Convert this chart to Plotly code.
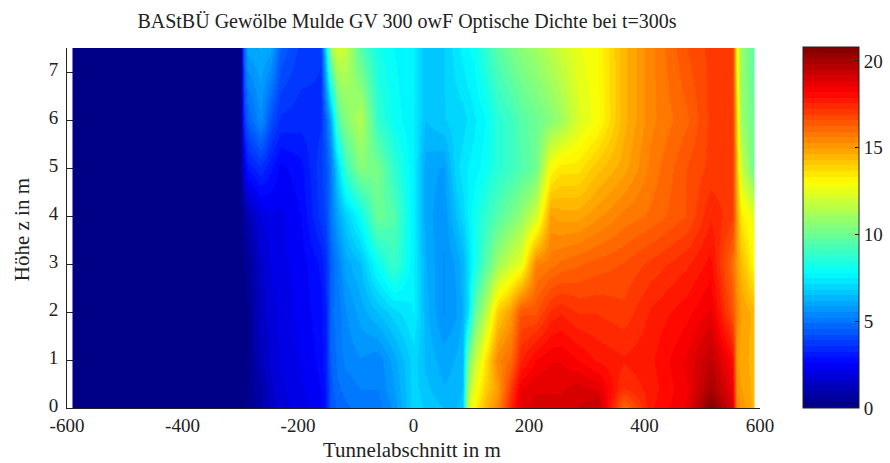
import plotly.graph_objects as go

title_text = "BAStBÜ Gewölbe Mulde GV 300 owF Optische Dichte bei t=300s"
x_label = "Tunnelabschnitt in m"
y_label = "Höhe z in m"
x_ticks = [-600, -400, -200, 0, 200, 400, 600]
x_tick_labels = ["-600", "-400", "-200", "0", "200", "400", "600"]
y_ticks = [0, 1, 2, 3, 4, 5, 6, 7]
cbar_ticks = [0, 5, 10, 15, 20]

z_levels = [0, 0.4, 1, 2, 3, 4, 5, 6, 7.5]
x_positions = [-590, -589, -299, -294, -287, -265, -247, -230, -195, -161, -152, -144, -131, -118,
               -92, -62, -35, 0, 21, 52, 73, 85, 93, 104, 125, 145, 168, 185, 211, 237, 254, 284,
               318, 363, 410, 474, 514, 552, 559, 567, 589, 590]

# optical density at each x position, from z=0 up to z=7.5
density_by_column = [
    [.2, .2, .2, .2, .2, .2, .2, .2, .2],
    [.2, .2, .2, .2, .2, .2, .2, .2, .2],
    [.2, .2, .2, .2, .2, .2, .2, .2, .2],
    [.2, .2, .2, .2, .3, .6, 2, 3.5, 4.5],
    [.3, .3, .3, .3, .5, 1, 3, 4.5, 6],
    [.8, .9, 1.2, 1.4, 1.5, 2, 3.5, 5.5, 6.2],
    [1.4, 1.5, 1.7, 1.8, 2, 2.2, 3, 4.2, 6],
    [1.8, 1.9, 2, 2.1, 2.2, 2.2, 2.5, 3.5, 4.5],
    [2.1, 2.2, 2.3, 2.4, 2.4, 2.6, 2.8, 3.4, 3.8],
    [2.5, 2.6, 2.7, 2.8, 3, 3.7, 3.8, 3.5, 3.6],
    [3, 3, 3.2, 3.2, 3.5, 4, 4.2, 4.5, 7],
    [4.3, 4.4, 4.5, 4.8, 4.5, 5, 5, 6, 11],
    [4.6, 4.8, 5, 5, 5.2, 6, 7, 9.5, 12.2],
    [4.8, 5, 5.3, 5.5, 6, 6.8, 9, 10.5, 11.8],
    [5, 5.2, 5.5, 6, 6.5, 8, 10.5, 11.5, 9.5],
    [5, 5.2, 5.3, 6.5, 8, 10, 10.2, 8.8, 8.2],
    [5.6, 5.8, 6, 7, 9, 9.5, 8.8, 8, 7.8],
    [7, 7, 7, 7.5, 7.5, 7.5, 7.5, 7.5, 7.5],
    [6.8, 6.6, 6.4, 6.3, 6.2, 6, 6, 6.5, 6.5],
    [6.5, 6.2, 6, 5.5, 5.5, 5.6, 5.8, 6.8, 6.8],
    [6.5, 6.3, 6.2, 5.8, 5.9, 6.5, 7, 7, 7.3],
    [6.6, 6.5, 6.4, 6.2, 6.3, 7, 7.3, 7, 7.6],
    [12, 11, 10, 7, 7, 7.5, 7.5, 7.2, 7.8],
    [13, 12.5, 11.5, 9.5, 8, 8, 7.6, 7.4, 7.9],
    [14.5, 14, 13.5, 11.5, 9.5, 8.8, 8, 7.8, 8.8],
    [15.5, 15, 15.5, 14, 11, 9.5, 8.6, 8.6, 9.6],
    [17.5, 17, 16, 15, 12, 10.2, 9, 9, 10.2],
    [18.8, 18.5, 17.5, 16.5, 12.5, 10.8, 9.4, 9.5, 10.6],
    [19, 18.8, 18.2, 16.5, 15.5, 12, 10, 10, 11],
    [19, 18.8, 18.5, 17.3, 15.8, 15, 13, 10.5, 11.6],
    [19, 18.8, 18.5, 17.5, 16, 14.8, 13.5, 11, 12],
    [19.2, 19, 18.2, 17.2, 16.2, 14.8, 13.5, 12.2, 12.6],
    [19.5, 18.8, 17.8, 17.2, 16.4, 15.2, 14.2, 12.9, 13],
    [16, 17.2, 17.6, 17, 16.6, 15.7, 14.8, 14.5, 14.5],
    [17.8, 17.7, 17.8, 17.6, 17, 16, 15.7, 15.5, 15.5],
    [18.6, 18.5, 18.6, 18.1, 17.5, 16.6, 16.6, 16.2, 16.6],
    [20.8, 20, 19.5, 18.6, 18, 17.5, 17, 17, 17],
    [19, 18.5, 18, 16.5, 16, 17, 17, 17, 17],
    [15.5, 15.2, 15, 15.5, 15, 15, 14.5, 14, 13],
    [15.2, 15, 14.8, 15, 14.5, 13.5, 12, 11, 11],
    [14.5, 14.5, 14.5, 14.5, 13, 12.5, 10, 10, 9.5],
    [14.5, 14.5, 14.5, 14.5, 13, 12.5, 10, 10, 9.5],
]
density_rows = [list(r) for r in zip(*density_by_column)]


def jet(t):
    def c(v):
        return int(round(255 * max(0.0, min(1.0, v))))
    return f"rgb({c(1.5 - abs(4*t - 3))},{c(1.5 - abs(4*t - 2))},{c(1.5 - abs(4*t - 1))})"


LEVELS = 64
colorscale = []
for i in range(LEVELS):
    col = jet((i + 0.5) / LEVELS)
    colorscale.append([i / LEVELS, col])
    colorscale.append([(i + 1) / LEVELS, col])

# the figure is wider than the window so the colorbar box does not squeeze the plot
W, H = 915, 463
L, R, T, B = 67, 760, 47.5, 408
FONT = "Liberation Serif"
INK = "#222222"

fig = go.Figure(go.Heatmap(
    x=x_positions, y=z_levels, z=density_rows,
    zmin=0, zmax=20.8, zsmooth="best", colorscale=colorscale,
    colorbar=dict(
        xref="paper", x=(803 - L) / (R - L), xanchor="left", xpad=0,
        yref="paper", y=0, yanchor="bottom", ypad=0,
        lenmode="pixels", len=B - T, thicknessmode="pixels", thickness=56,
        tickvals=cbar_ticks, ticks="inside", ticklen=4, tickcolor=INK, tickwidth=1,
        tickprefix="\u2002",
        outlinewidth=1, outlinecolor=INK,
        tickfont=dict(family=FONT, size=19, color=INK),
    ),
))

axis_common = dict(
    showgrid=False, zeroline=False, showline=True, linecolor=INK, linewidth=1,
    ticks="inside", ticklen=6, tickcolor=INK, tickwidth=1, layer="below traces",
    tickfont=dict(family=FONT, size=19, color=INK),
)
fig.update_xaxes(range=[-600, 600], tickvals=x_ticks, ticktext=x_tick_labels, **axis_common)
fig.update_yaxes(range=[0, 7.5], tickvals=y_ticks, ticklabelstandoff=4, ticklabelshift=-3, **axis_common)
fig.update_layout(
    width=W, height=H, autosize=False,
    margin=dict(l=L, r=W - R, t=T, b=H - B, pad=0),
    paper_bgcolor="white", plot_bgcolor="white",
    title=dict(text=title_text, x=407 / W, xanchor="center", y=1 - 21 / H, yanchor="middle",
               font=dict(family=FONT, size=20, color=INK)),
    annotations=[
        dict(text=x_label, xref="paper", yref="paper", x=(412 - L) / (R - L), xanchor="center",
             y=(B - 450) / (B - T), yanchor="middle", showarrow=False,
             font=dict(family=FONT, size=21, color=INK)),
        dict(text=y_label, xref="paper", yref="paper", x=(22 - L) / (R - L), xanchor="center",
             y=(B - 230) / (B - T), yanchor="middle", textangle=-90, showarrow=False,
             font=dict(family=FONT, size=21, color=INK)),
    ],
)
fig.write_html("out.html",
               post_script="document.body.style.margin='0';document.documentElement.style.overflow='hidden';document.body.style.overflow='hidden';",
               config=dict(displayModeBar=False))
